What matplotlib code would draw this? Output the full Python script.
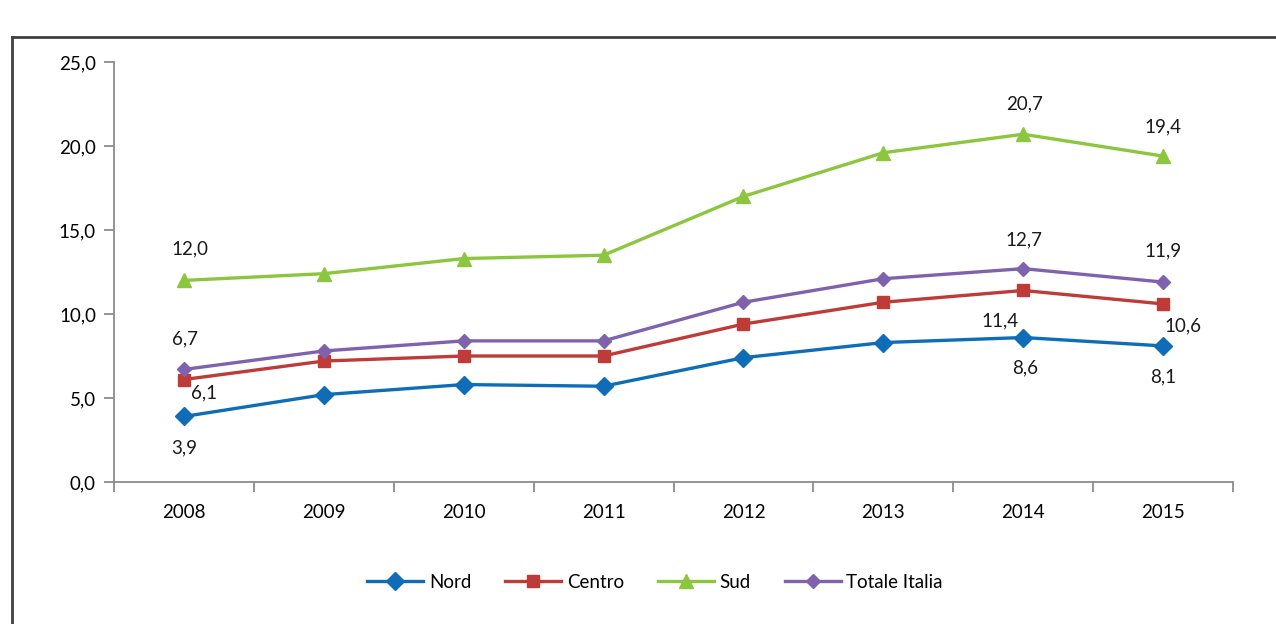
import matplotlib
matplotlib.use("Agg")
import matplotlib.pyplot as plt
from matplotlib.lines import Line2D

years = ["2008", "2009", "2010", "2011", "2012", "2013", "2014", "2015"]
nord = [3.9, 5.2, 5.8, 5.7, 7.4, 8.3, 8.6, 8.1]
centro = [6.1, 7.2, 7.5, 7.5, 9.4, 10.7, 11.4, 10.6]
sud = [12.0, 12.4, 13.3, 13.5, 17.0, 19.6, 20.7, 19.4]
totale = [6.7, 7.8, 8.4, 8.4, 10.7, 12.1, 12.7, 11.9]
yticks = [0, 5, 10, 15, 20, 25]

plt.rcParams['font.family'] = ['Lato', 'DejaVu Sans']

W, H = 1276, 624
fig = plt.figure(figsize=(W / 100, H / 100), dpi=100)
ax = fig.add_axes([114 / W, 1 - 482 / H, (1233 - 114) / W, (482 - 62) / H])

x = list(range(len(years)))
series = [
    ("Nord", nord, "#0F6DB8", "D", 9),
    ("Centro", centro, "#BE3B37", "s", 9),
    ("Sud", sud, "#8CC63E", "^", 10),
    ("Totale Italia", totale, "#7F62AE", "D", 7),
]
lines = []
for name, vals, col, mk, ms in series:
    l, = ax.plot(x, vals, color=col, lw=2.4, marker=mk, ms=ms, mfc=col, mec=col, label=name)
    lines.append(l)

fs = 13.5
def lab(i, vals, dx, dy):
    ax.annotate(f"{vals[i]:.1f}".replace(".", ","), (x[i], vals[i]), xytext=(dx, -dy),
                textcoords="offset pixels", ha="center", va="center", fontsize=fs, color="#1a1a1a")

# Nord
lab(0, nord, 0, 31); lab(6, nord, 2, 30); lab(7, nord, 0, 31)
# Centro
lab(0, centro, 20, 13); lab(6, centro, -23, 30); lab(7, centro, 20, 22)
# Sud
lab(0, sud, 6, -32); lab(6, sud, 1, -30); lab(7, sud, 0, -29)
# Totale
lab(0, totale, 1, -31); lab(6, totale, 1, -29); lab(7, totale, 0, -31)

ax.set_xlim(-0.5, len(years) - 0.5)
ax.set_ylim(0, 25)
ax.set_yticks(yticks)
ax.set_yticklabels([f"{v:.1f}".replace(".", ",") for v in yticks], fontsize=fs)
ax.set_xticks(x)
ax.set_xticklabels(years, fontsize=fs)
ax.set_xticks([i - 0.5 for i in range(len(years) + 1)], minor=True)
ax.tick_params(axis="x", which="major", length=0, pad=16)
ax.tick_params(axis="x", which="minor", length=7, color="#8c8c8c", width=1.3)
ax.tick_params(axis="y", length=7, color="#8c8c8c", width=1.3, pad=6)
for s in ["top", "right"]:
    ax.spines[s].set_visible(False)
for s in ["left", "bottom"]:
    ax.spines[s].set_color("#8c8c8c")
    ax.spines[s].set_linewidth(1.3)

leg = fig.legend(handles=lines, loc="center", bbox_to_anchor=(655 / W, 1 - 582 / H), ncol=4,
                 frameon=False, fontsize=fs, handlelength=3.0, columnspacing=1.8, handletextpad=0.3)

# outer frame
fig.add_artist(Line2D([12 / W, 12 / W], [0, 1 - 37 / H], transform=fig.transFigure, color="#404040", lw=2))
fig.add_artist(Line2D([12 / W, 1], [1 - 37 / H, 1 - 37 / H], transform=fig.transFigure, color="#404040", lw=2))

fig.savefig("out.png", dpi=100)
